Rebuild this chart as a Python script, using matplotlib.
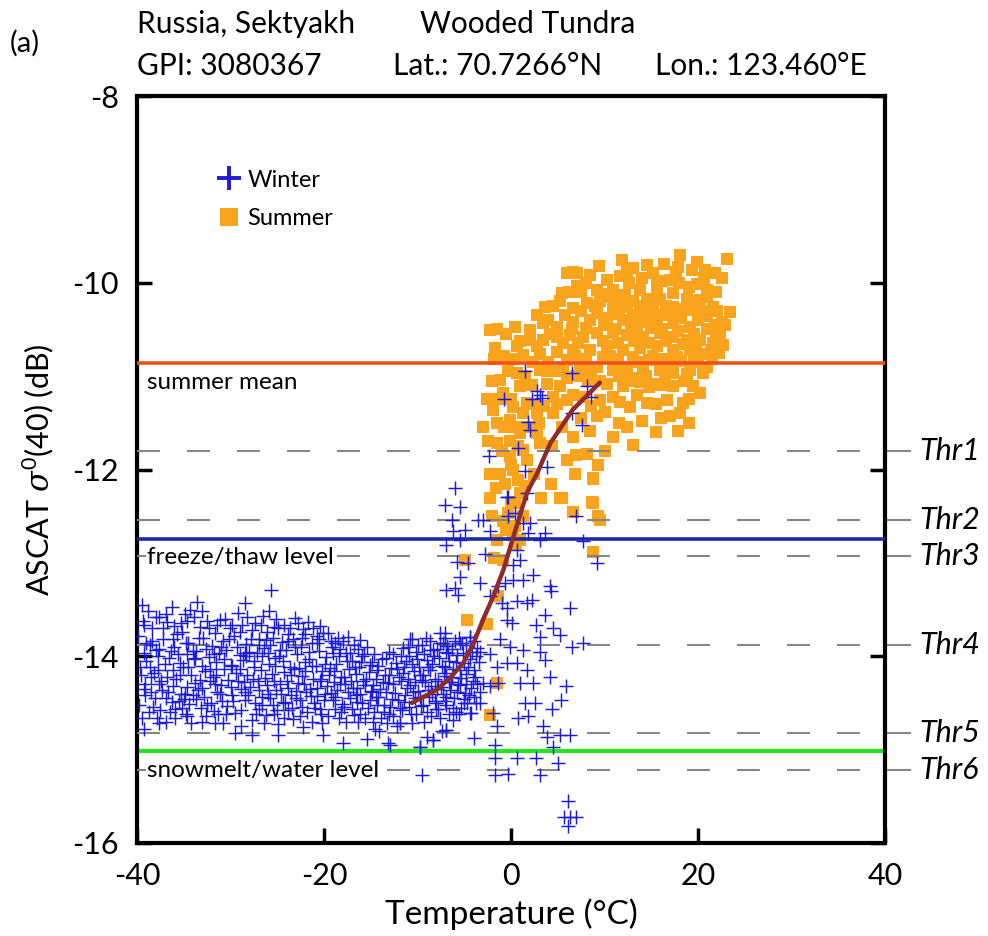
import numpy as np
import matplotlib
matplotlib.use('Agg')
import matplotlib.pyplot as plt
from matplotlib.lines import Line2D

plt.rcParams['font.family'] = ['Lato', 'DejaVu Sans']
plt.rcParams['mathtext.fontset'] = 'custom'
plt.rcParams['mathtext.rm'] = 'Lato'
plt.rcParams['mathtext.it'] = 'DejaVu Serif:italic'
plt.rcParams['axes.unicode_minus'] = False

# header info
site = 'Russia, Sektyakh'
landcover = 'Wooded Tundra'
gpi = 'GPI: 3080367'
lat = 'Lat.: 70.7266°N'
lon = 'Lon.: 123.460°E'

# reference levels (dB)
summer_mean = -10.86
freeze_thaw = -12.74
snowmelt = -15.02
thr_names = ['Thr1', 'Thr2', 'Thr3', 'Thr4', 'Thr5', 'Thr6']
thr_levels = [-11.80, -12.54, -12.93, -13.88, -14.82, -15.22]

# fitted transition curve (temperature, sigma0)
curve_temp = [-10.6, -7.95, -6.5, -5.1, -4.0, -3.0, -1.9, -0.8, 0.25, 1.7, 2.8, 4.2, 6.6, 9.5]
curve_sigma = [-14.50, -14.36, -14.23, -14.07, -13.86, -13.61, -13.36, -13.07, -12.72,
               -12.25, -12.04, -11.72, -11.36, -11.07]

# winter observations, cold band (temperature, sigma0)
winter_cold = [
    (-39.5, -13.45), (-39.9, -13.78), (-39.3, -13.96), (-39.7, -14.12), (-39.2, -14.35), (-39.8, -14.52),
    (-38.8, -13.52), (-39.2, -13.66), (-38.6, -13.88), (-39.0, -14.05), (-38.5, -14.22), (-39.1, -14.41), (-38.7, -14.60), (-39.3, -14.78),
    (-38.0, -13.58), (-38.4, -13.84), (-37.8, -14.00), (-38.2, -14.18), (-37.7, -14.30), (-38.3, -14.54), (-37.9, -14.66),
    (-37.2, -13.70), (-37.6, -13.92), (-37.0, -14.08), (-37.4, -14.26), (-36.9, -14.45), (-37.5, -14.58),
    (-36.3, -13.47), (-36.8, -13.63), (-36.2, -13.81), (-36.6, -14.02), (-36.1, -14.15), (-36.7, -14.38), (-36.3, -14.49), (-36.9, -14.70),
    (-35.7, -13.76), (-36.0, -13.90), (-35.4, -14.07), (-35.8, -14.24), (-35.3, -14.40), (-35.9, -14.57),
    (-34.9, -13.55), (-35.2, -13.74), (-34.7, -13.98), (-35.1, -14.12), (-34.6, -14.33), (-35.0, -14.46), (-34.8, -14.62),
    (-34.3, -13.51), (-34.5, -13.86), (-33.9, -14.03), (-34.2, -14.20), (-33.8, -14.29), (-34.4, -14.51), (-34.2, -14.71),
    (-33.6, -13.42), (-33.3, -13.69), (-33.7, -13.94), (-33.1, -14.10), (-33.5, -14.36), (-33.2, -14.55),
    (-32.5, -13.62), (-32.9, -13.80), (-32.3, -14.01), (-32.7, -14.16), (-32.2, -14.27), (-32.8, -14.44), (-32.6, -14.64),
    (-31.7, -13.75), (-32.0, -13.89), (-31.5, -14.06), (-31.9, -14.22), (-31.4, -14.38), (-31.8, -14.59), (-31.7, -14.71),
    (-31.1, -13.61), (-30.8, -13.84), (-31.2, -13.97), (-30.7, -14.14), (-31.0, -14.31), (-30.9, -14.48),
    (-30.1, -13.70), (-30.5, -13.93), (-29.9, -14.09), (-30.3, -14.25), (-29.8, -14.42), (-30.4, -14.53), (-30.8, -14.71),
    (-29.2, -13.54), (-29.6, -13.78), (-29.0, -13.99), (-29.4, -14.18), (-28.9, -14.35), (-29.5, -14.61), (-29.5, -14.82),
    (-28.4, -13.43), (-28.8, -13.66), (-28.3, -13.87), (-28.7, -14.04), (-28.2, -14.20), (-28.6, -14.28), (-28.5, -14.47),
    (-27.7, -13.72), (-28.0, -13.95), (-27.5, -14.11), (-27.9, -14.33), (-27.4, -14.50), (-27.7, -14.68), (-27.7, -14.84),
    (-26.9, -13.81), (-27.2, -13.96), (-26.7, -14.15), (-27.1, -14.26), (-26.6, -14.44), (-27.0, -14.57),
    (-26.5, -13.57), (-26.1, -13.74), (-26.4, -13.91), (-25.9, -14.08), (-26.3, -14.23), (-26.0, -14.40), (-26.2, -14.63),
    (-25.7, -13.29), (-25.4, -13.69), (-25.8, -13.88), (-25.2, -14.02), (-25.6, -14.19), (-25.1, -14.36), (-25.5, -14.52),
    (-24.9, -13.70), (-24.5, -13.85), (-24.8, -14.00), (-24.3, -14.17), (-24.7, -14.30), (-24.4, -14.49), (-24.9, -14.73), (-24.9, -14.84),
    (-23.8, -13.76), (-24.1, -13.93), (-23.6, -14.12), (-24.0, -14.27), (-23.5, -14.41), (-23.9, -14.58),
    (-23.1, -13.59), (-23.3, -13.82), (-22.9, -13.98), (-23.2, -14.14), (-22.8, -14.29), (-23.0, -14.45), (-23.3, -14.67),
    (-22.2, -13.71), (-22.5, -13.90), (-22.0, -14.06), (-22.4, -14.21), (-21.9, -14.38), (-22.3, -14.54), (-22.2, -14.76),
    (-21.7, -13.63), (-21.3, -13.86), (-21.6, -14.03), (-21.2, -14.24), (-21.5, -14.35), (-21.1, -14.50),
    (-20.8, -13.78), (-20.5, -13.94), (-20.9, -14.10), (-20.4, -14.26), (-20.7, -14.43), (-20.3, -14.62),
    (-20.4, -13.68), (-20.1, -13.75), (-19.8, -14.01), (-20.2, -14.16), (-19.7, -14.32), (-20.0, -14.47), (-20.1, -14.84),
    (-19.3, -13.84), (-19.0, -13.97), (-19.4, -14.13), (-18.9, -14.28), (-19.2, -14.39), (-18.8, -14.56),
    (-18.5, -13.80), (-18.3, -13.92), (-18.7, -14.08), (-18.2, -14.22), (-18.6, -14.36), (-18.1, -14.51), (-18.4, -14.66),
    (-17.4, -13.79), (-17.7, -13.96), (-17.3, -14.14), (-17.8, -14.30), (-17.2, -14.45), (-18.0, -14.93),
    (-16.8, -13.88), (-17.0, -14.05), (-16.6, -14.19), (-16.9, -14.34), (-16.5, -14.49), (-16.8, -14.63),
    (-16.2, -13.83), (-15.9, -14.00), (-16.3, -14.12), (-15.8, -14.27), (-16.1, -14.40), (-16.4, -14.70),
    (-15.4, -13.90), (-15.1, -14.09), (-15.5, -14.24), (-15.0, -14.37), (-15.3, -14.55), (-15.4, -14.89),
    (-14.6, -13.98), (-14.3, -14.15), (-14.8, -14.31), (-14.4, -14.44), (-14.7, -14.60), (-14.5, -14.78),
    (-13.8, -14.03), (-13.5, -14.20), (-14.0, -14.35), (-13.6, -14.52), (-13.9, -14.66),
    (-13.1, -13.95), (-12.8, -14.13), (-13.2, -14.29), (-12.7, -14.46), (-13.0, -14.62), (-12.9, -14.95),
    (-12.3, -14.07), (-12.0, -14.22), (-12.4, -14.39), (-11.9, -14.55), (-12.2, -14.75),
    (-11.5, -13.91), (-11.2, -14.05), (-11.6, -14.18), (-11.1, -14.34), (-11.4, -14.49), (-11.9, -14.71),
    (-10.6, -13.82), (-10.9, -14.00), (-10.4, -14.16), (-10.8, -14.31), (-10.3, -14.45), (-10.7, -14.62),
    (-9.9, -13.88), (-10.1, -14.03), (-9.7, -14.20), (-10.0, -14.37), (-9.6, -14.53), (-9.7, -14.97),
    (-9.1, -13.80), (-9.3, -13.98), (-8.9, -14.12), (-9.2, -14.28), (-8.8, -14.44), (-9.0, -14.60), (-9.0, -14.86),
    (-8.3, -13.93), (-8.5, -14.08), (-8.1, -14.24), (-8.4, -14.40), (-8.0, -14.56), (-8.3, -14.90),
    (-7.6, -13.75), (-7.3, -13.86), (-7.7, -14.02), (-7.2, -14.18), (-7.5, -14.33), (-7.1, -14.48), (-7.6, -14.66),
    (-6.8, -13.89), (-6.6, -14.05), (-7.0, -14.21), (-6.5, -14.36), (-6.9, -14.52), (-6.9, -14.79),
    (-6.0, -13.84), (-5.8, -13.99), (-6.2, -14.14), (-5.7, -14.30), (-6.1, -14.45), (-5.9, -14.60),
    (-5.2, -13.86), (-5.0, -14.07), (-5.4, -14.23), (-4.9, -14.39), (-5.3, -14.55),
    (-4.4, -13.79), (-4.2, -13.95), (-4.6, -14.11), (-4.1, -14.26), (-4.5, -14.42), (-4.3, -14.61),
    (-3.6, -13.91), (-3.4, -14.06), (-3.8, -14.22), (-3.3, -14.38), (-3.7, -14.50),
    (-8.7, -14.15), (-7.9, -14.35), (-6.4, -14.28), (-5.5, -14.15), (-4.8, -14.30), (-7.0, -13.95),
    (-8.0, -14.50), (-6.2, -14.55), (-9.5, -14.25), (-5.0, -14.50), (-6.9, -13.29),
]

# more winter points filling the dense cold band
winter_cold_fill = [
    (-39.4, -13.62), (-39.0, -13.86), (-39.6, -14.20), (-39.1, -14.30), (-39.5, -14.66),
    (-38.4, -13.70), (-38.0, -13.93), (-38.6, -14.12), (-38.1, -14.45), (-38.5, -14.38),
    (-37.6, -13.58), (-37.2, -13.82), (-37.8, -14.15), (-37.3, -14.36), (-37.7, -14.72),
    (-36.9, -13.55), (-36.4, -13.94), (-36.8, -14.22), (-36.5, -14.60),
    (-36.0, -13.68), (-35.6, -13.98), (-36.1, -14.32), (-35.5, -14.48), (-35.9, -14.66),
    (-35.3, -13.64), (-34.8, -13.86), (-35.4, -14.20), (-34.9, -14.40), (-35.2, -14.55),
    (-34.6, -13.62), (-34.0, -13.94), (-34.5, -14.12), (-34.0, -14.42), (-34.6, -14.64),
    (-33.9, -13.58), (-33.4, -13.80), (-33.8, -14.02), (-33.3, -14.25), (-33.7, -14.46),
    (-33.0, -13.52), (-32.6, -13.92), (-33.1, -14.34), (-32.5, -14.52), (-33.0, -14.70),
    (-32.3, -13.70), (-31.8, -13.98), (-32.2, -14.14), (-31.7, -14.30), (-32.1, -14.50),
    (-31.4, -13.66), (-31.0, -13.90), (-31.5, -14.20), (-31.1, -14.40), (-31.3, -14.62),
    (-30.6, -13.60), (-30.2, -13.82), (-30.7, -14.03), (-30.0, -14.33), (-30.5, -14.62),
    (-29.8, -13.66), (-29.3, -13.90), (-29.8, -14.10), (-29.2, -14.27), (-29.7, -14.48),
    (-29.0, -13.74), (-28.5, -13.96), (-29.0, -14.14), (-28.4, -14.38), (-28.9, -14.58), (-28.9, -14.75),
    (-28.2, -13.58), (-27.8, -13.82), (-28.3, -14.00), (-27.6, -14.24), (-28.1, -14.42),
    (-27.4, -13.64), (-27.0, -13.88), (-27.5, -14.05), (-26.9, -14.36), (-27.3, -14.62),
    (-26.7, -13.66), (-26.2, -13.83), (-26.6, -14.00), (-26.1, -14.31), (-26.6, -14.52), (-26.4, -14.72),
    (-25.9, -13.52), (-25.5, -13.80), (-26.0, -13.96), (-25.4, -14.27), (-25.8, -14.45), (-25.3, -14.62),
    (-25.1, -13.60), (-24.7, -13.93), (-25.2, -14.10), (-24.6, -14.40), (-25.0, -14.58),
    (-24.3, -13.66), (-23.9, -13.84), (-24.4, -14.05), (-23.8, -14.34), (-24.2, -14.50), (-24.3, -14.66),
    (-23.6, -13.70), (-23.1, -13.90), (-23.5, -14.20), (-23.0, -14.37), (-23.4, -14.55),
    (-22.8, -13.64), (-22.3, -13.80), (-22.7, -14.13), (-22.1, -14.30), (-22.6, -14.47), (-22.6, -14.64),
    (-22.0, -13.76), (-21.6, -13.95), (-22.0, -14.16), (-21.4, -14.43), (-21.8, -14.60),
    (-21.2, -13.70), (-20.8, -13.86), (-21.3, -14.10), (-20.7, -14.34), (-21.0, -14.55), (-21.3, -14.70),
    (-20.5, -13.82), (-19.9, -14.08), (-20.3, -14.24), (-19.9, -14.40), (-20.4, -14.56), (-20.2, -14.72),
    (-19.6, -13.75), (-19.1, -13.90), (-19.5, -14.20), (-19.0, -14.47), (-19.6, -14.64),
    (-18.8, -13.86), (-18.4, -14.00), (-18.9, -14.16), (-18.3, -14.30), (-18.8, -14.44), (-18.2, -14.60),
    (-18.0, -13.84), (-17.5, -14.05), (-17.9, -14.22), (-17.4, -14.38), (-17.9, -14.54), (-17.6, -14.70),
    (-17.2, -13.96), (-16.7, -14.12), (-17.1, -14.27), (-16.6, -14.42), (-17.0, -14.56),
    (-16.4, -13.92), (-16.0, -14.06), (-16.5, -14.34), (-15.9, -14.50), (-16.2, -14.62),
    (-15.7, -13.98), (-15.2, -14.17), (-15.6, -14.31), (-15.1, -14.47), (-15.6, -14.66),
    (-14.9, -14.06), (-14.4, -14.24), (-14.9, -14.38), (-14.3, -14.52), (-14.8, -14.70),
    (-14.2, -14.10), (-13.7, -14.28), (-14.2, -14.44), (-13.6, -14.60), (-14.1, -14.80),
    (-13.4, -14.02), (-13.0, -14.20), (-13.4, -14.38), (-12.9, -14.54), (-13.3, -14.72),
    (-12.6, -13.98), (-12.2, -14.14), (-12.6, -14.30), (-12.1, -14.47), (-12.6, -14.64),
    (-11.8, -14.00), (-11.4, -14.12), (-11.8, -14.26), (-11.3, -14.42), (-11.7, -14.58),
    (-11.0, -13.90), (-10.6, -14.08), (-11.0, -14.24), (-10.5, -14.38), (-10.9, -14.54), (-10.6, -14.72),
    (-10.2, -13.95), (-9.8, -14.12), (-10.3, -14.28), (-9.7, -14.44), (-10.2, -14.62),
    (-9.5, -13.88), (-9.0, -14.04), (-9.4, -14.20), (-8.9, -14.36), (-9.4, -14.52), (-9.3, -14.70),
    (-8.7, -13.84), (-8.2, -14.00), (-8.6, -14.32), (-8.1, -14.48), (-8.6, -14.64),
    (-7.9, -13.92), (-7.4, -14.10), (-7.8, -14.26), (-7.3, -14.40), (-7.8, -14.56), (-7.4, -14.80),
    (-7.1, -13.80), (-6.7, -13.97), (-7.1, -14.12), (-6.6, -14.28), (-7.0, -14.44), (-6.6, -14.62),
    (-6.3, -13.92), (-5.9, -14.06), (-6.3, -14.22), (-5.8, -14.38), (-6.2, -14.68),
    (-5.6, -13.80), (-5.1, -13.96), (-5.5, -14.31), (-5.0, -14.46), (-5.6, -14.62),
    (-4.8, -13.88), (-4.4, -14.03), (-4.8, -14.19), (-4.3, -14.34), (-4.7, -14.50),
    (-4.0, -13.84), (-3.7, -14.00), (-4.0, -14.15), (-3.6, -14.30), (-4.0, -14.44),
]

# winter observations around the thaw transition
winter_thaw = [
    (-6.0, -12.20), (-7.05, -12.38), (-5.45, -12.40), (-3.5, -12.54), (-3.0, -12.54), (-6.35, -12.54),
    (-6.2, -12.66), (-4.9, -12.65), (-5.45, -12.75), (-6.9, -12.81), (-2.25, -12.66), (-0.45, -12.29),
    (-0.3, -12.50), (0.4, -12.47), (1.3, -12.57), (1.85, -12.68), (3.6, -12.68), (3.1, -12.75),
    (7.0, -12.50), (7.7, -12.77), (9.2, -13.00), (0.6, -12.86), (0.95, -12.97), (0.25, -13.02),
    (-5.8, -12.99), (-4.6, -13.00), (-5.45, -13.15), (-3.3, -13.22), (-6.0, -13.27), (-5.65, -13.34),
    (-2.25, -13.36), (-1.4, -13.25), (-0.65, -13.22), (0.25, -13.18), (1.3, -13.18), (2.4, -13.13),
    (4.2, -13.25), (4.3, -13.30), (6.3, -13.48), (-1.0, -13.43), (-0.45, -13.48), (0.6, -13.41),
    (1.7, -13.43), (2.2, -13.40), (3.6, -13.56), (4.5, -13.70), (5.2, -13.77), (6.5, -13.90),
    (7.7, -13.86), (2.7, -13.66), (3.1, -13.79), (3.1, -13.95), (3.6, -14.04), (4.2, -14.22),
    (5.9, -14.32), (5.4, -14.47), (4.35, -14.56), (1.5, -14.50), (1.85, -14.64), (0.8, -14.66),
    (-1.55, -14.75), (3.45, -14.75), (3.8, -14.86), (5.2, -14.84), (6.3, -14.84), (4.5, -14.97),
    (-1.7, -14.95), (-4.0, -14.88), (-1.7, -15.09), (0.6, -15.09), (2.7, -15.09), (5.05, -15.14),
    (-0.3, -15.26), (-1.7, -15.27), (3.1, -15.27), (-9.55, -15.27), (6.1, -15.55), (6.3, -15.72),
    (5.7, -15.72), (6.9, -15.72), (6.1, -15.82),
    (-10.8, -13.82), (-8.7, -13.93), (-7.05, -13.75), (-7.6, -13.86), (-5.45, -13.86), (-4.4, -13.79),
    (-3.3, -13.95), (-2.2, -13.98), (-1.55, -14.11), (-1.35, -14.29), (-2.2, -14.32), (-3.0, -14.29),
    (-1.9, -14.61), (-3.3, -14.50), (-4.4, -14.61), (-6.9, -14.79), (-8.3, -14.90), (-9.7, -14.97),
    (-13.2, -14.93), (-11.9, -14.71), (-0.45, -14.07), (-0.1, -13.90), (0.6, -14.07), (0.95, -14.29),
    (-1.2, -13.82), (-0.45, -13.61), (0.1, -13.64), (1.3, -13.93), (1.7, -14.15), (2.4, -14.29), (2.6, -14.50),
    (1.5, -10.95), (6.5, -10.97), (8.1, -11.11), (8.6, -11.22), (2.75, -11.16), (3.1, -11.20),
    (-0.8, -11.25), (2.2, -11.25), (3.3, -11.23), (6.5, -11.40), (7.6, -11.52), (1.85, -11.49),
    (2.05, -11.58), (0.8, -11.77), (-2.4, -11.86), (1.5, -12.02), (3.8, -11.97), (-0.3, -12.29),
    (1.7, -12.25), (2.05, -12.57), (-2.8, -12.90),
]

# summer observations
summer_obs = [
    (23.07, -9.75), (18.08, -9.70), (11.84, -9.76), (14.51, -9.81), (17.90, -9.83), (19.33, -9.86),
    (20.75, -9.86), (5.96, -9.90), (7.03, -9.90), (8.45, -9.92), (10.24, -9.97), (11.66, -9.93),
    (13.09, -9.84), (15.23, -9.90), (17.01, -9.97), (15.58, -10.02), (17.37, -10.11), (19.86, -10.01),
    (20.93, -10.08), (5.42, -10.11), (7.03, -10.04), (9.17, -10.08), (10.95, -10.08), (12.20, -10.13),
    (13.80, -10.08), (14.51, -10.17), (15.94, -10.17), (18.79, -10.17), (20.22, -10.18), (21.64, -10.26),
    (23.43, -10.31), (3.64, -10.26), (6.67, -10.27), (8.10, -10.22), (9.52, -10.20), (10.95, -10.26),
    (12.37, -10.26), (13.80, -10.31), (15.23, -10.29), (17.37, -10.26), (19.15, -10.29), (20.93, -10.36),
    (22.53, -10.43), (-2.24, -10.51), (0.43, -10.47), (2.04, -10.51), (3.46, -10.43), (4.89, -10.47),
    (6.67, -10.42), (8.45, -10.40), (10.24, -10.38), (12.02, -10.40), (13.80, -10.42), (15.58, -10.40),
    (17.37, -10.43), (19.15, -10.47), (20.93, -10.49), (22.36, -10.54), (-1.71, -10.70), (0.61, -10.68),
    (2.04, -10.61), (3.46, -10.61), (4.89, -10.58), (6.31, -10.56), (7.74, -10.58), (9.17, -10.54),
    (10.95, -10.54), (12.37, -10.56), (14.16, -10.58), (15.94, -10.54), (17.37, -10.58), (18.79, -10.61),
    (20.22, -10.61), (21.64, -10.65), (22.71, -10.67), (1.32, -10.77), (3.11, -10.76), (4.89, -10.74),
    (6.67, -10.72), (8.45, -10.72), (10.24, -10.68), (12.02, -10.72), (13.80, -10.70), (15.58, -10.68),
    (17.37, -10.72), (19.15, -10.72), (20.57, -10.76),
    (-1.17, -11.04), (0.61, -10.97), (3.11, -10.93), (4.89, -10.95), (7.38, -10.93), (9.17, -10.90),
    (10.95, -10.93), (12.37, -10.90), (14.16, -10.92), (15.94, -10.93), (17.37, -10.97), (19.15, -10.93),
    (20.57, -10.97), (-0.82, -11.18), (0.97, -11.11), (3.82, -11.08), (5.24, -11.11), (10.24, -11.08),
    (12.02, -11.11), (13.80, -11.06), (15.58, -11.08), (17.37, -11.11), (19.50, -11.11), (20.22, -11.18),
    (-1.89, -11.36), (0.25, -11.33), (1.68, -11.29), (4.53, -11.22), (5.96, -11.26), (7.74, -11.22),
    (9.52, -11.26), (10.95, -11.22), (12.73, -11.33), (14.51, -11.29), (16.65, -11.26), (18.43, -11.29),
    (-1.53, -11.50), (-0.10, -11.47), (1.32, -11.40), (2.75, -11.40), (4.53, -11.40), (9.17, -11.43),
    (12.37, -11.54), (17.01, -11.43), (18.08, -11.40), (-2.96, -11.54), (0.97, -11.61), (2.75, -11.61),
    (6.67, -11.65), (8.45, -11.59), (10.95, -11.65), (13.09, -11.74), (17.90, -11.59), (-1.53, -11.72),
    (-0.10, -11.70), (1.32, -11.79), (3.11, -11.72), (4.35, -11.75), (8.10, -11.83), (-0.10, -11.86),
    (1.68, -11.90), (5.96, -11.90), (9.34, -11.95), (0.25, -12.00), (0.79, -12.11), (1.50, -12.18),
    (8.81, -12.09), (0.97, -12.25), (-2.24, -12.31), (5.42, -12.31), (0.43, -12.36), (8.81, -12.36),
    (-2.06, -12.50), (-0.28, -12.47), (1.32, -12.50), (9.52, -12.54), (0.43, -12.61), (8.81, -12.88),
    (-4.9, -12.97), (-0.85, -12.97), (-1.35, -13.36), (-4.75, -13.61), (-2.6, -13.65), (-1.55, -14.29),
    (-2.25, -14.63), (0.2, -12.70), (0.5, -12.80), (5.2, -12.30), (8.7, -12.35), (9.3, -12.50), (8.8, -12.10),
]

# more summer points filling the dense cloud
summer_fill = [
    (4.0, -10.40), (5.8, -10.35), (7.5, -10.30), (9.2, -10.32), (11.5, -10.33), (13.0, -10.35),
    (14.6, -10.36), (16.4, -10.35), (18.2, -10.38), (20.0, -10.40), (21.8, -10.45),
    (2.8, -10.68), (5.6, -10.65), (7.2, -10.65), (9.8, -10.62), (11.4, -10.64), (13.2, -10.62),
    (14.8, -10.64), (16.6, -10.62), (18.4, -10.66), (19.8, -10.68), (21.4, -10.72),
    (2.4, -10.85), (4.0, -10.85), (6.0, -10.83), (8.0, -10.82), (9.8, -10.80), (11.4, -10.82),
    (13.0, -10.80), (14.8, -10.83), (16.5, -10.82), (18.2, -10.84), (20.0, -10.85), (21.5, -10.82),
    (6.2, -10.10), (8.0, -10.00), (9.8, -10.12), (11.3, -10.18), (13.0, -10.20), (14.9, -10.22),
    (16.6, -10.25), (18.0, -10.00), (19.6, -10.20), (21.0, -10.15), (22.0, -10.30), (4.5, -10.25),
    (1.5, -11.00), (2.2, -11.10), (6.0, -11.02), (8.2, -11.05), (11.5, -11.00), (13.0, -11.02),
    (14.8, -11.12), (16.5, -11.02), (18.5, -11.05), (-0.3, -10.95), (-1.8, -10.82), (0.0, -11.25),
    (1.0, -10.62), (-0.5, -10.55), (2.2, -11.30), (3.5, -11.32), (-0.8, -11.55), (0.5, -11.55),
    (1.8, -11.55), (0.0, -11.95), (0.8, -11.75), (-1.0, -11.80), (-0.6, -12.15), (0.0, -12.35), (-1.2, -12.05),
    (2.8, -10.35), (4.2, -10.55), (5.2, -10.20), (6.5, -10.50), (7.5, -10.10), (8.0, -10.48),
    (9.0, -10.25), (9.9, -10.45), (10.6, -10.15), (11.2, -10.50), (11.9, -10.25), (12.6, -10.00),
    (12.8, -10.45), (13.5, -10.55), (14.2, -10.25), (14.0, -9.95), (15.0, -10.48), (15.6, -10.14),
    (16.2, -9.98), (16.2, -10.50), (17.0, -10.35), (17.6, -9.88), (17.9, -10.52), (18.6, -10.28),
    (19.0, -10.05), (19.6, -10.55), (20.3, -10.30), (20.6, -9.95), (21.2, -10.50), (21.9, -10.10),
    (22.6, -9.95), (22.9, -10.45),
    (3.8, -10.95), (5.6, -10.90), (6.8, -10.78), (7.0, -11.00), (8.6, -10.92), (9.5, -11.05),
    (10.6, -10.78), (11.8, -10.92), (12.8, -11.05), (13.6, -10.85), (14.4, -11.00), (15.2, -10.78),
    (16.0, -11.10), (16.9, -10.90), (17.8, -10.80), (18.8, -10.98), (19.6, -10.80), (21.0, -10.90),
    (21.9, -10.60), (22.2, -10.75),
    (4.9, -11.30), (6.6, -11.20), (8.6, -11.32), (10.0, -11.38), (11.7, -11.28), (13.5, -11.20),
    (15.5, -11.30), (16.0, -11.45), (19.0, -11.25), (3.0, -11.50), (5.5, -11.55), (7.5, -11.45),
    (11.5, -11.50), (14.0, -11.48), (10.0, -11.80), (7.0, -11.85), (15.5, -11.60), (19.0, -11.50),
    (-1.5, -10.50), (-0.8, -10.78), (0.2, -10.82), (-2.0, -11.05), (-2.6, -11.25), (-1.4, -11.25),
    (-2.5, -11.70), (-2.2, -12.05), (-1.6, -12.20), (-0.9, -12.55), (-1.5, -12.75), (-0.5, -12.65),
    (1.0, -12.75), (-1.8, -12.95), (2.5, -12.05), (3.2, -12.30), (4.3, -12.15), (6.8, -12.05), (6.6, -12.45),
    (6.6, -9.88), (9.4, -9.82), (12.4, -9.88), (16.4, -9.80), (19.9, -9.78), (21.8, -9.90),
]

winter_color = '#1c1cd4'
summer_color = '#f9a41c'

winter = np.array(winter_cold + winter_cold_fill + winter_thaw)
summer = np.array(summer_obs + summer_fill)

fig = plt.figure(figsize=(9.88, 9.36), dpi=100)
ax = fig.add_axes([137 / 988, 93 / 936, 748 / 988, 747 / 936])

ax.scatter(summer[:, 0], summer[:, 1], marker='s', s=68, color=summer_color,
           linewidths=0, zorder=2)

# reference levels
ax.axhline(summer_mean, color='#f0501e', lw=2.6, zorder=3)
ax.axhline(freeze_thaw, color='#1a2aa8', lw=2.6, zorder=3)
ax.axhline(snowmelt, color='#22e622', lw=3.0, zorder=2.5)
for name, lev in zip(thr_names, thr_levels):
    ax.axhline(lev, color='#858585', lw=1.5, ls=(0, (11, 13)), zorder=3)
    ax.plot([40.3, 42.7], [lev, lev], color='#858585', lw=1.5, clip_on=False)
    ax.text(43.7, lev, name, fontsize=22, style='italic', va='center', ha='left')

ax.scatter(winter[:, 0], winter[:, 1], marker='+', s=115, color=winter_color,
           linewidths=1.05, zorder=4)

ax.plot(curve_temp, curve_sigma, color='#8e2b2b', lw=3.2, zorder=5,
        solid_capstyle='round')

box = dict(facecolor='white', edgecolor='none', pad=1)
ax.text(-38.9, -11.07, 'summer mean', fontsize=17.5, va='center', zorder=6)
ax.text(-38.9, -12.94, 'freeze/thaw level', fontsize=17.5, va='center', bbox=box, zorder=6)
ax.text(-38.9, -15.22, 'snowmelt/water level', fontsize=17.5, va='center', bbox=box, zorder=6)

ax.set_xlim(-40, 40)
ax.set_ylim(-16, -8)
ax.set_xticks([-40, -20, 0, 20, 40])
ax.set_yticks([-16, -14, -12, -10, -8])
ax.tick_params(direction='in', length=11, width=2.5, labelsize=22,
               left=True, right=True, top=False)
ax.tick_params(axis='x', pad=14)
ax.tick_params(axis='y', pad=13)
for sp in ax.spines.values():
    sp.set_linewidth(3)
ax.set_xlabel('Temperature (°C)', fontsize=24, labelpad=6)
ax.set_ylabel(r'ASCAT $\sigma^0$(40) (dB)', fontsize=22, labelpad=12)

h_w = Line2D([], [], ls='none', marker='+', color=winter_color, markersize=17, mew=2.8)
h_s = Line2D([], [], ls='none', marker='s', color=summer_color, markersize=13, mew=0)
ax.legend([h_w, h_s], ['Winter', 'Summer'], loc='upper left', bbox_to_anchor=(0.075, 0.93),
          frameon=False, fontsize=17, handletextpad=0.2, labelspacing=0.75, handlelength=1.2)

fig.text(10 / 988, 1 - 52 / 936, '(a)', fontsize=21, va='baseline')
fig.text(137 / 988, 1 - 33 / 936, site, fontsize=21.5, va='baseline')
fig.text(420 / 988, 1 - 33 / 936, landcover, fontsize=21.5, va='baseline')
fig.text(137 / 988, 1 - 75 / 936, gpi, fontsize=21.5, va='baseline')
fig.text(393 / 988, 1 - 75 / 936, lat, fontsize=21.5, va='baseline')
fig.text(655 / 988, 1 - 75 / 936, lon, fontsize=21.5, va='baseline')

fig.savefig('out.png', dpi=100)
